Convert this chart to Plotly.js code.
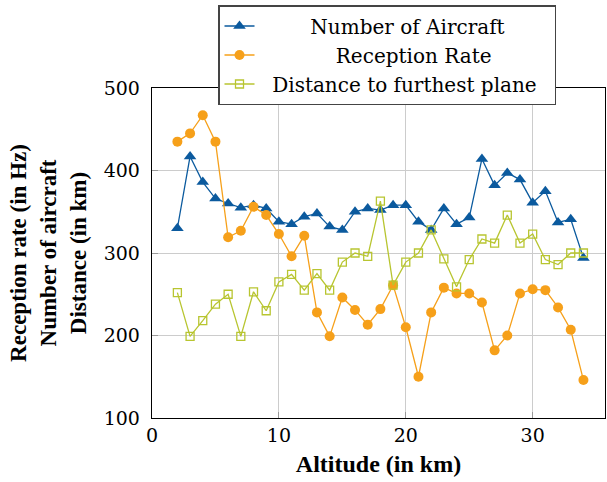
<!DOCTYPE html>
<html>
<head>
<meta charset="utf-8">
<script src="https://cdn.plot.ly/plotly-3.0.1.min.js"></script>
<style>html,body{margin:0;padding:0;background:#fff;}#chart{width:607px;height:482px;}</style>
</head>
<body>
<div id="chart"></div>
<script>
const altitude = [2,3,4,5,6,7,8,9,10,11,12,13,14,15,16,17,18,19,20,21,22,23,24,25,26,27,28,29,30,31,32,33,34];
const numberOfAircraft = [330,417,386,366,360,355,358,354,338,335,344,348,332,328,350,354,352,358,358,338,328,354,335,343,414,382,397,389,361,375,337,341,294];
const receptionRate = [435,445,467,435,319,327,356,346,323,296,321,228,199,246,231,213,232,261,210,150,228,258,251,251,240,182,200,251,256,255,234,207,146];
const distanceFurthest = [252,199,218,238,250,199,253,230,265,274,255,275,255,289,300,296,363,261,289,300,328,293,259,292,317,312,346,312,323,292,286,300,300];
const seriesNames = ['Number of Aircraft', 'Reception Rate', 'Distance to furthest plane'];
const xTicks = [0,10,20,30];
const yTicks = [100,200,300,400,500];

const pad = n => '\u00A0'.repeat(n);
const tickFamily = 'DejaVu Serif';
const legendFamily = 'DejaVu Serif';
const titleFamily = 'Liberation Serif';

const traces = [
  {x: altitude, y: numberOfAircraft, name: pad(8) + seriesNames[0], mode: 'lines+markers',
   line: {color: '#0b5a9e', width: 1.3}, marker: {symbol: 'triangle-up', size: 11, color: '#0b5a9e'}},
  {x: altitude, y: receptionRate, name: pad(12) + seriesNames[1], mode: 'lines+markers',
   line: {color: '#f6a01a', width: 1.3}, marker: {symbol: 'circle', size: 10, color: '#f6a01a'}},
  {x: altitude, y: distanceFurthest, name: pad(2) + seriesNames[2] + pad(2), mode: 'lines+markers',
   line: {color: '#b8c530', width: 1.3}, marker: {symbol: 'square-open', size: 8, color: '#b8c530', line: {width: 1.3}}}
];

const layout = {
  width: 607, height: 482,
  margin: {l: 152, r: 2, t: 88, b: 64},
  paper_bgcolor: '#fff', plot_bgcolor: '#fff',
  font: {family: tickFamily, size: 19, color: '#000'},
  showlegend: true,
  legend: {x: 0.1457, xanchor: 'left', y: 1.2515, yanchor: 'top',
           bgcolor: '#fff', bordercolor: '#444', borderwidth: 1.5,
           font: {family: legendFamily, size: 20, color: '#000'}},
  xaxis: {range: [0, 35.7], tickvals: xTicks, ticktext: xTicks.map(String),
          showgrid: true, gridcolor: '#cccccc', gridwidth: 1,
          zeroline: false, showline: true, linecolor: '#000', linewidth: 1.3, mirror: true,
          ticks: 'inside', ticklen: 6, tickcolor: '#999',
          tickfont: {family: tickFamily, size: 19},
          title: {text: '<b>Altitude (in km)</b>', font: {family: titleFamily, size: 24}, standoff: 10}},
  yaxis: {range: [100, 500], tickvals: yTicks, ticktext: yTicks.map(String),
          showgrid: true, gridcolor: '#cccccc', gridwidth: 1,
          zeroline: false, showline: true, linecolor: '#000', linewidth: 1.3, mirror: true,
          ticks: 'inside', ticklen: 6, tickcolor: '#999', ticklabelstandoff: 7,
          tickfont: {family: tickFamily, size: 19},
          title: {text: '<b>Reception rate (in Hz)</b><br><b>Number of aircraft</b><br><b>Distance (in km)</b>',
                  font: {family: titleFamily, size: 23}, standoff: 10}}
};

Plotly.newPlot('chart', traces, layout, {displayModeBar: false, staticPlot: true});
</script>
</body>
</html>
